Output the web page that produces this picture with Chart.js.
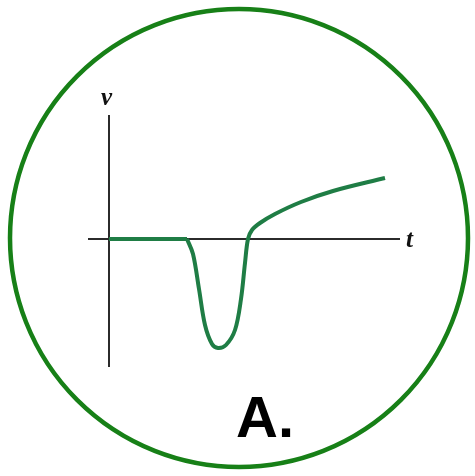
<!DOCTYPE html>
<html>
<head>
<meta charset="utf-8">
<script src="https://cdn.jsdelivr.net/npm/chart.js@4"></script>
<style>
  html, body { margin: 0; padding: 0; background: #fff; }
  #wrap { position: relative; width: 475px; height: 476px; overflow: hidden; }
  canvas { position: absolute; left: 0; top: 0; }
  .lbl { position: absolute; font-family: "Liberation Serif", "DejaVu Serif", serif; font-style: italic; font-weight: bold; font-size: 25px; color: #111; line-height: 1; }
  #letter { position: absolute; left: 236px; top: 388px; font-family: "Liberation Sans", Arial, sans-serif; font-weight: bold; font-size: 58px; color: #000; line-height: 1; }
</style>
</head>
<body>
<div id="wrap">
  <canvas id="graph" width="475" height="476"></canvas>
  <div class="lbl" id="vLabel" style="left:101px; top:84px;">v</div>
  <div class="lbl" id="tLabel" style="left:406px; top:226px;">t</div>
  <div id="letter">A.</div>
</div>
<script>
// flat part at rest (t, v)
const restT = [0, 7.8];
const restV = [0, 0];
// dip and rising tail (t, v)
const pulseT = [7.8, 8.4, 9.0, 9.6, 10.3, 10.9, 11.7, 12.6, 13.2, 13.6, 13.9, 14.3, 15.1, 16.6, 19.2, 22.4, 27.6];
const pulseV = [0, -1.5, -5.0, -8.6, -10.5, -10.9, -10.6, -9.1, -6.0, -2.4, 0, 0.9, 1.6, 2.5, 3.7, 4.8, 6.1];

const curveColor = '#1f7d45';
const ringColor = '#178017';

// green circle frame around the whole figure
const ringPlugin = {
    id: 'ring',
    beforeDraw(chart) {
        const c = chart.ctx;
        c.save();
        c.strokeStyle = ringColor;
        c.lineWidth = 4.5;
        c.beginPath();
        c.arc(239, 238, 229, 0, Math.PI * 2);
        c.stroke();
        c.restore();
    }
};

function zeroLine(ctx) {
    return ctx.tick && ctx.tick.value === 0 ? '#2b2b2b' : 'rgba(0,0,0,0)';
}

function toPoints(xs, ys) {
    return xs.map((x, i) => ({ x: x, y: ys[i] }));
}

new Chart(document.getElementById('graph').getContext('2d'), {
    type: 'line',
    data: {
        datasets: [{
            data: toPoints(restT, restV),
            borderColor: curveColor,
            borderWidth: 4,
            pointRadius: 0,
            tension: 0,
            fill: false
        }, {
            data: toPoints(pulseT, pulseV),
            borderColor: curveColor,
            borderWidth: 4,
            pointRadius: 0,
            tension: 0.35,
            fill: false
        }]
    },
    options: {
        responsive: false,
        animation: false,
        layout: { padding: { left: 88, right: 75, top: 115, bottom: 109 } },
        plugins: { legend: { display: false }, tooltip: { enabled: false } },
        scales: {
            x: {
                type: 'linear',
                min: -2.1,
                max: 29.1,
                ticks: { display: false, stepSize: 1 },
                border: { display: false },
                grid: { drawTicks: false, color: zeroLine, lineWidth: 2 }
            },
            y: {
                type: 'linear',
                min: -12.8,
                max: 12.4,
                ticks: { display: false, stepSize: 1 },
                border: { display: false },
                grid: { drawTicks: false, color: zeroLine, lineWidth: 2 }
            }
        }
    },
    plugins: [ringPlugin]
});
</script>
</body>
</html>
